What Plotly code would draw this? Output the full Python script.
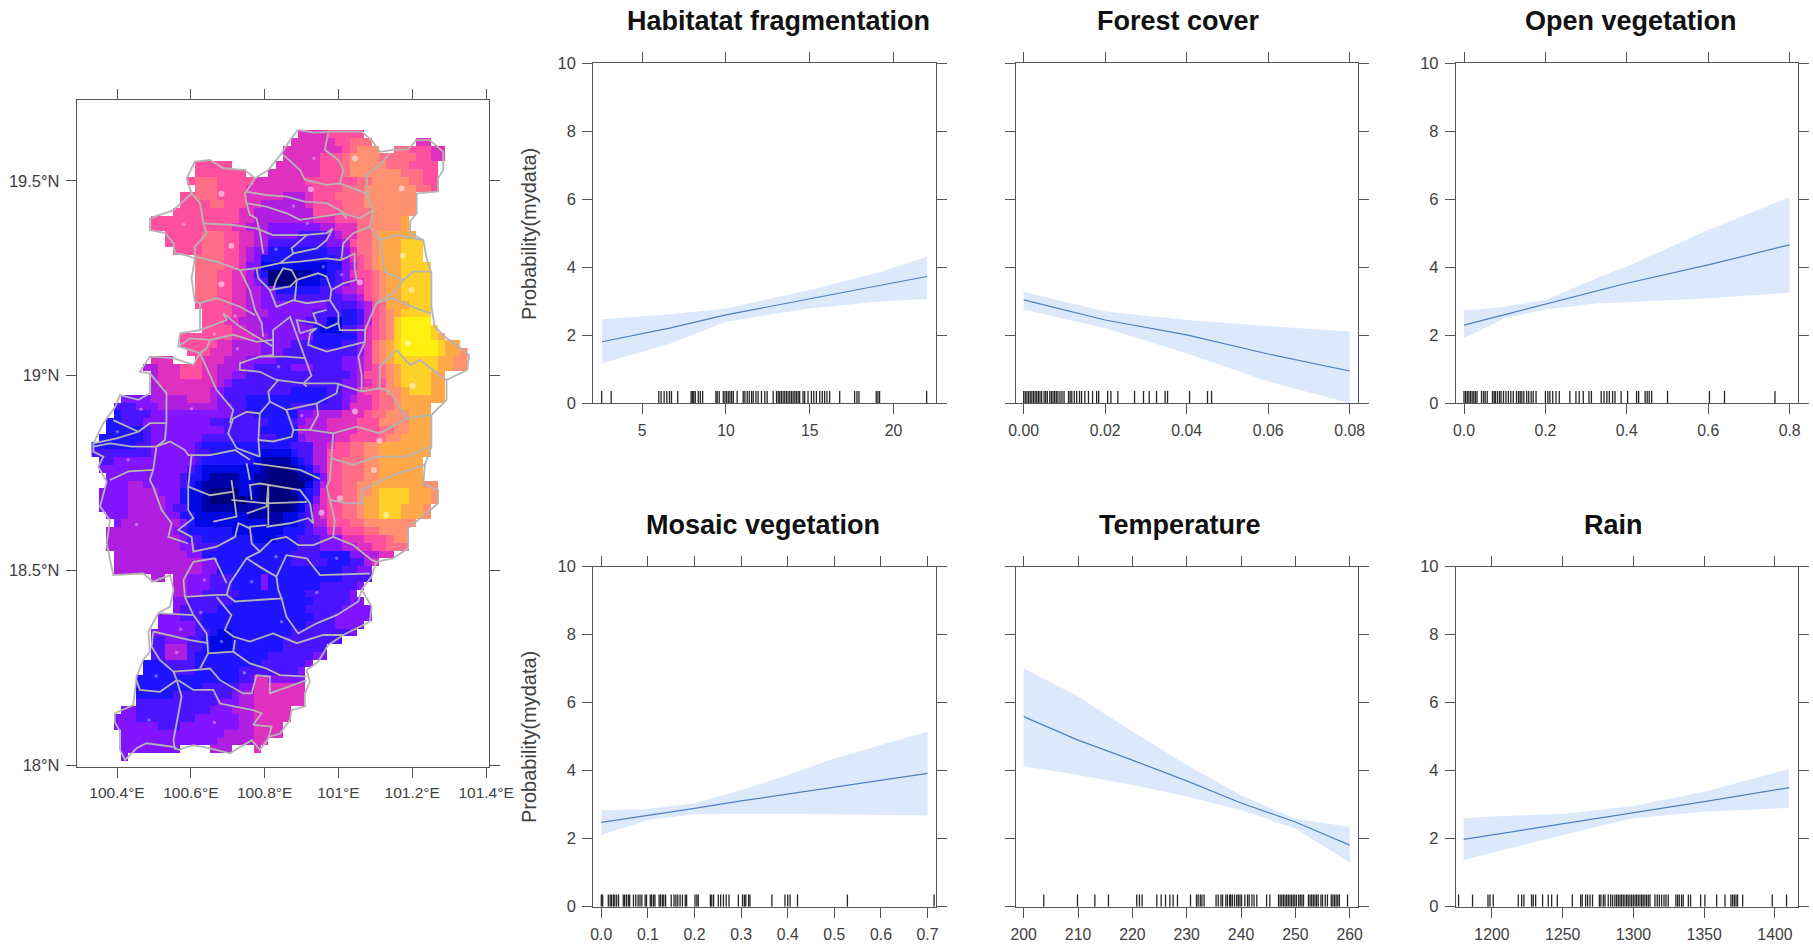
import plotly.graph_objects as go

MAP_COLOURS = ["#00007c","#0000a8","#0008e4","#1e14ff","#4a14ff","#8214ff","#b01ee0",
               "#e030c0","#ff50a0","#ff7088","#ff9070","#ffa848","#ffd028","#fff010"]
LEVEL_CODES = "0123456789abcd"
GRID_LON_WEST = 100.341
GRID_LAT_NORTH = 19.621
GRID_STEP = 0.02
GRID_COLS = 51

# each row: first column, then level>last column (run-length)
MAP_ROWS = [
"28 7>31 8>36",
"27 7>32 8>34 9>37 .>43 7>45",
"26 7>33 8>34 9>35 a>38 .>40 9>42 8>45 7>47",
"26 7>30 8>33 9>34 a>38 9>43 8>45 7>47",
"14 8>18 .>24 7>30 8>33 9>34 a>39 9>42 8>46",
"14 8>20 .>23 7>30 8>33 9>34 a>41 9>44 8>46",
"13 8>13 9>16 8>21 7>28 8>35 9>37 a>42 9>44 8>46",
"14 9>16 8>20 7>29 8>33 9>36 a>43 9>45 8>46",
"12 8>13 9>16 8>20 7>25 6>28 7>29 8>32 9>36 a>43",
"12 8>15 9>17 8>20 7>22 6>28 7>29 8>33 9>36 a>43",
"11 8>19 7>21 6>29 8>33 9>37 a>43",
"8 8>19 7>21 6>29 7>32 8>35 9>37 a>41 b>42",
"8 8>18 7>20 6>23 5>30 6>32 7>35 9>37 a>41 b>42",
"10 8>14 9>17 8>19 7>21 6>23 5>27 4>31 5>32 6>33 7>35 9>37 a>38 b>43",
"10 8>14 9>17 8>19 7>21 6>23 4>31 5>33 6>34 8>35 9>37 a>38 b>41 c>44",
"11 8>14 9>17 8>19 7>20 6>21 5>23 3>31 4>33 5>34 7>35 9>37 a>38 b>41 c>44",
"14 9>17 8>19 7>20 6>21 5>22 3>32 4>33 5>34 7>35 8>36 9>37 a>38 b>41 c>44",
"14 9>17 8>19 7>20 5>22 2>31 3>33 5>34 6>35 8>36 9>37 a>38 b>41 c>45",
"14 9>16 8>18 7>20 6>21 4>22 3>23 0>27 1>29 2>31 3>32 4>33 5>34 7>35 8>37 9>38 a>39 b>41 c>45",
"14 9>16 8>18 7>20 6>21 5>22 4>23 0>27 2>30 3>32 4>33 5>34 6>35 7>36 8>37 9>38 a>39 b>41 c>45",
"14 9>16 8>18 7>20 6>22 5>24 3>30 4>32 5>33 6>35 7>36 8>37 9>38 a>39 b>41 c>45",
"14 9>16 8>18 7>20 6>22 5>24 4>33 5>35 6>36 8>37 9>38 a>39 b>41 c>45",
"14 8>18 7>20 6>22 5>31 4>35 5>36 6>37 8>38 9>39 b>42 c>45",
"15 8>18 7>20 6>23 5>29 4>33 3>35 4>36 6>37 8>38 9>39 a>40 b>41 c>45",
"15 8>17 7>19 6>22 5>28 4>31 2>33 3>35 4>36 6>37 8>38 9>39 a>40 c>41 d>45",
"15 8>18 7>20 6>22 5>29 3>30 2>33 4>35 5>36 7>37 8>38 9>39 a>40 c>41 d>45 c>46",
"12 8>18 7>21 6>23 5>29 3>35 5>36 7>37 8>38 9>39 a>40 c>41 d>45 c>46 b>47",
"12 8>16 7>18 6>22 5>26 4>29 3>33 4>35 5>36 7>37 9>38 a>39 b>40 c>41 d>46 c>47 b>49",
"13 8>15 7>18 6>22 5>25 4>35 5>36 7>37 9>38 a>39 b>40 c>41 d>46 c>47 b>49 a>50",
"8 7>10 .>13 8>14 7>17 6>20 5>24 4>33 5>35 6>36 7>37 9>38 a>39 b>40 c>46 b>48 a>50",
"7 6>8 7>11 8>14 7>16 6>19 5>21 4>26 5>29 4>33 5>35 6>36 7>37 8>38 9>39 a>40 b>41 c>46 b>48 a>50",
"8 6>8 7>11 8>14 7>16 6>18 5>20 4>34 5>35 6>36 8>38 9>39 a>40 b>41 c>45 b>47",
"8 6>8 7>16 6>17 5>18 4>33 5>35 6>36 7>37 8>39 a>40 b>41 c>45 b>47",
"8 6>9 7>15 6>16 5>17 4>26 3>31 4>33 5>35 7>36 8>38 9>39 a>41 b>42 c>45 b>47",
"4 5>7 6>12 7>15 6>16 5>17 4>20 3>31 4>33 5>34 6>35 7>37 8>38 9>40 a>41 b>47",
"3 4>5 5>8 6>16 5>18 4>20 3>26 4>33 5>34 7>37 8>38 9>40 a>41 b>45",
"3 3>3 4>7 5>18 4>21 3>27 5>29 6>33 7>36 8>37 9>39 a>42 b>45",
"2 3>3 4>6 5>15 4>23 3>26 4>27 5>28 6>31 7>35 8>38 a>42 b>45",
"2 3>6 4>7 5>17 4>22 3>27 6>31 7>35 8>38 9>40 a>42 b>45",
"1 3>6 4>7 5>14 4>24 3>27 5>28 6>32 7>34 8>38 9>39 a>41 b>45",
"0 3>5 4>7 5>13 4>14 3>26 4>29 6>31 7>32 8>34 9>36 a>38 b>45",
"0 4>7 5>13 4>15 3>22 2>26 3>27 4>29 6>31 8>34 9>36 a>38 b>45",
"1 4>2 5>13 4>14 3>21 2>22 1>26 2>27 3>28 4>29 6>31 8>33 9>36 a>38 b>44",
"1 5>12 4>13 3>14 2>22 1>23 0>26 1>27 2>28 3>29 5>30 6>31 8>33 9>36 a>38 b>44",
"2 5>11 4>12 3>14 2>15 1>19 2>21 1>23 0>27 1>29 3>30 5>31 8>33 9>36 a>38 b>44",
"2 5>4 6>6 5>11 4>12 3>13 2>14 1>19 2>21 1>22 0>28 2>29 4>30 6>31 8>33 9>35 a>37 b>44 a>46",
"1 5>4 6>8 5>11 3>12 2>14 1>15 0>19 2>21 1>22 0>26 1>27 2>28 3>29 4>30 7>31 8>33 9>35 a>37 b>38 c>42 b>45 a>46",
"1 5>4 6>9 5>11 3>12 2>14 1>15 0>20 1>22 0>27 2>28 3>29 5>30 7>31 8>33 9>35 a>36 b>38 c>42 b>45 a>46",
"1 5>4 6>9 5>10 4>12 2>14 1>23 0>26 1>27 2>28 4>29 6>30 7>31 8>33 9>35 a>36 b>38 c>41 b>44 a>45",
"2 5>4 6>9 5>11 3>13 2>20 1>25 2>27 3>28 4>29 6>30 7>31 8>33 9>35 a>36 b>38 c>41 b>44 a>45",
"3 5>3 6>11 5>12 3>13 2>23 1>25 2>27 3>28 4>29 6>31 8>34 9>36 a>43",
"2 6>10 5>11 4>12 3>18 2>25 3>28 4>29 5>31 7>33 8>36 9>38 a>42",
"2 6>11 5>12 4>14 3>21 2>24 3>27 4>30 5>33 7>36 8>39 9>40 a>42",
"2 6>11 5>13 4>16 3>27 4>30 5>33 6>35 7>37 8>39 9>42",
"3 6>12 5>14 3>26 4>30 3>34 5>36 6>38 7>40",
"3 6>14 5>16 3>26 4>31 3>34 4>36 6>37 7>38",
"3 6>14 5>16 3>33 4>35 5>37",
"8 6>9 .>10 6>12 5>15 4>18 3>22 5>23 3>33 4>37",
"11 6>12 5>15 4>18 3>22 5>23 3>30 4>35 5>36",
"11 6>12 5>14 4>19 3>28 4>34 5>35",
"11 5>12 4>18 3>29 4>34 5>36",
"11 5>11 4>16 3>28 4>33 5>37",
"9 5>11 4>14 3>29 4>32 5>37",
"9 5>13 4>14 3>28 4>32 5>36",
"8 5>13 4>15 3>16 2>18 3>26 4>34 5>35",
"8 4>9 5>12 4>14 3>15 2>18 3>25 4>33",
"8 4>9 6>12 4>14 3>15 2>18 3>25 4>31",
"8 4>9 6>12 4>13 3>23 4>29 5>31",
"7 3>9 4>13 3>22 4>28 5>29",
"7 3>10 4>13 3>19 4>27 5>28",
"6 3>19 4>21 7>23 5>28",
"6 3>14 4>19 5>21 7>28",
"6 3>10 4>18 5>19 6>21 7>28",
"6 4>16 5>19 6>21 7>28",
"4 5>5 4>15 5>18 6>21 7>26",
"3 5>5 4>13 5>19 6>21 7>26",
"3 5>8 4>11 5>19 6>21 7>25",
"4 5>17 6>21 7>25",
"4 5>16 6>21 7>23",
"4 5>11 .>15 6>18 .>21 7>22",
"4 5>4",
]

DOT_LON_LARGE = [101.045,100.925,101.171,100.683,100.710,101.174,100.683,101.058,101.198,101.189,101.201,101.045,101.111,101.096,101.004,100.954,101.129]
DOT_LAT_LARGE = [19.558,19.479,19.481,19.467,19.334,19.308,19.235,19.240,19.220,19.083,18.974,18.908,18.833,18.758,18.685,18.648,18.642]
DOT_LON_SMALL = [100.934,100.878,100.580,100.916,100.831,101.009,100.959,100.720,100.664,100.726,100.838,100.602,100.901,100.465,100.430,100.401,100.453,100.562,100.572,100.683,100.941,100.995,100.831,100.765,100.637,100.627,100.846,100.506,100.487,100.664,100.745]
DOT_LAT_SMALL = [19.558,19.436,19.389,19.391,19.325,19.259,19.280,19.153,19.107,19.069,19.023,18.915,18.897,18.914,18.784,18.856,18.618,18.289,18.349,18.317,18.443,18.531,18.535,18.471,18.475,18.392,18.368,18.229,18.116,18.109,18.237]

# district outlines, lon/lat pairs
BOUNDARIES = [
[(100.890,19.631),(100.932,19.624),(100.986,19.627),(101.063,19.627),(101.090,19.605),(101.112,19.575),(101.148,19.580),(101.189,19.581),(101.210,19.605),(101.248,19.605),(101.284,19.575),(101.284,19.528),(101.270,19.507),(101.270,19.473),(101.212,19.468),(101.212,19.417),(101.194,19.396),(101.194,19.367),(101.230,19.348),(101.239,19.301),(101.252,19.263),(101.252,19.177),(101.261,19.126),(101.293,19.096),(101.325,19.075),(101.354,19.053),(101.349,19.015),(101.293,18.989),(101.293,18.938),(101.252,18.899),(101.252,18.818),(101.234,18.771),(101.230,18.723),(101.270,18.706),(101.270,18.672),(101.207,18.621),(101.189,18.608),(101.189,18.557),(101.148,18.531),(101.103,18.522),(101.090,18.484),(101.063,18.450),(101.090,18.407),(101.085,18.368),(101.013,18.334),(100.972,18.308),(100.945,18.265),(100.914,18.244),(100.923,18.214),(100.909,18.184),(100.909,18.150),(100.873,18.141),(100.869,18.116),(100.842,18.081),(100.814,18.073),(100.787,18.039),(100.765,18.064),(100.706,18.030),(100.652,18.043),(100.607,18.051),(100.566,18.039),(100.553,18.047),(100.480,18.056),(100.453,18.043),(100.422,18.013),(100.408,18.039),(100.408,18.086),(100.394,18.111),(100.394,18.133),(100.444,18.154),(100.453,18.227),(100.471,18.270),(100.489,18.291),(100.485,18.343),(100.512,18.390),(100.544,18.407),(100.553,18.450),(100.544,18.488),(100.498,18.471),(100.471,18.492),(100.390,18.488),(100.372,18.569),(100.381,18.629),(100.354,18.664),(100.363,18.698),(100.372,18.728),(100.349,18.766),(100.363,18.792),(100.336,18.805),(100.336,18.826),(100.363,18.878),(100.395,18.920),(100.408,18.950),(100.458,18.938),(100.489,18.955),(100.489,19.006),(100.462,19.010),(100.489,19.049),(100.553,19.045),(100.607,19.028),(100.625,19.058),(100.566,19.075),(100.571,19.109),(100.625,19.117),(100.625,19.186),(100.611,19.190),(100.602,19.250),(100.611,19.301),(100.584,19.310),(100.557,19.314),(100.553,19.340),(100.530,19.366),(100.489,19.374),(100.489,19.404),(100.553,19.425),(100.602,19.468),(100.589,19.507),(100.611,19.550),(100.652,19.554),(100.688,19.533),(100.747,19.528),(100.774,19.507),(100.810,19.528),(100.846,19.571),(100.869,19.605),(100.890,19.631)],
[(100.846,19.571),(100.896,19.528),(100.909,19.503),(100.968,19.490),(101.004,19.494),(101.013,19.528),(101.000,19.554),(100.963,19.580),(100.972,19.622)],
[(101.004,19.494),(101.040,19.481),(101.076,19.468),(101.081,19.451),(101.094,19.425)],
[(101.139,19.571),(101.112,19.541),(101.076,19.515),(101.081,19.451)],
[(100.774,19.507),(100.747,19.468),(100.751,19.443),(100.760,19.413),(100.778,19.404),(100.787,19.370),(100.796,19.314)],
[(100.747,19.473),(100.805,19.464),(100.860,19.460),(100.909,19.447),(100.968,19.443),(101.004,19.425),(101.022,19.404)],
[(100.751,19.443),(100.805,19.434),(100.860,19.417),(100.896,19.400),(100.950,19.408),(101.013,19.417),(101.058,19.404),(101.094,19.425)],
[(101.094,19.425),(101.085,19.383),(101.112,19.348),(101.126,19.267),(101.176,19.246),(101.203,19.267),(101.252,19.267)],
[(101.112,19.348),(101.158,19.361),(101.230,19.348)],
[(101.085,19.383),(101.040,19.366),(101.013,19.340),(101.008,19.297),(101.044,19.314),(101.044,19.280),(101.049,19.246),(101.013,19.237),(100.981,19.220),(100.968,19.254),(100.945,19.263),(100.887,19.246)],
[(100.634,19.391),(100.715,19.387),(100.778,19.378),(100.823,19.361),(100.905,19.361),(100.968,19.366),(100.984,19.378),(100.968,19.348),(100.941,19.327),(100.878,19.314),(100.873,19.327),(100.914,19.361)],
[(100.602,19.468),(100.625,19.443),(100.634,19.391),(100.643,19.366),(100.611,19.331),(100.611,19.301)],
[(100.611,19.306),(100.670,19.293),(100.733,19.271),(100.778,19.276),(100.841,19.289),(100.878,19.314)],
[(100.841,19.289),(100.896,19.293),(100.968,19.301),(101.008,19.297)],
[(100.778,19.276),(100.783,19.250),(100.814,19.220),(100.869,19.229),(100.887,19.246),(100.873,19.271),(100.850,19.276),(100.832,19.246),(100.823,19.220)],
[(100.733,19.271),(100.760,19.220),(100.774,19.169),(100.792,19.135),(100.796,19.100)],
[(100.814,19.220),(100.832,19.177),(100.878,19.194),(100.914,19.186),(100.977,19.194),(101.000,19.160),(101.000,19.135),(100.968,19.122),(100.941,19.135),(100.932,19.160),(100.968,19.169)],
[(100.887,19.246),(100.882,19.194)],
[(100.977,19.194),(100.981,19.220)],
[(100.625,19.186),(100.670,19.199),(100.733,19.177),(100.774,19.156)],
[(100.688,19.160),(100.733,19.126),(100.778,19.100),(100.823,19.075)],
[(100.688,19.160),(100.697,19.143),(100.625,19.117)],
[(100.566,19.075),(100.598,19.096),(100.652,19.092),(100.715,19.105),(100.778,19.087),(100.823,19.092),(100.823,19.053),(100.787,19.049),(100.733,19.032),(100.733,19.015),(100.787,19.010),(100.832,18.989),(100.905,18.980)],
[(100.652,19.092),(100.643,19.070),(100.625,19.058)],
[(100.823,19.092),(100.823,19.117),(100.869,19.151),(100.909,19.049),(100.927,19.000),(100.905,18.980),(100.914,18.972)],
[(100.787,19.049),(100.859,19.049),(100.909,19.045)],
[(100.896,19.109),(100.941,19.122),(100.923,19.109),(100.918,19.079),(100.968,19.062),(101.022,19.075),(101.072,19.087)],
[(100.896,19.109),(100.887,19.143),(100.941,19.135)],
[(101.000,19.135),(101.004,19.117),(101.072,19.117),(101.072,19.087),(101.054,19.049),(101.063,19.002),(101.063,18.959)],
[(101.176,19.246),(101.148,19.211),(101.103,19.186),(101.072,19.117)],
[(101.103,19.186),(101.148,19.199),(101.221,19.169),(101.252,19.160)],
[(101.158,19.066),(101.112,19.023),(101.112,18.968),(101.063,18.959),(100.995,18.980),(100.905,18.980)],
[(101.158,19.066),(101.194,19.027),(101.221,19.040),(101.293,18.989)],
[(101.112,18.968),(101.139,18.959),(101.185,18.890),(101.248,18.899)],
[(101.185,18.890),(101.112,18.852),(101.049,18.869),(100.986,18.852),(100.923,18.861),(100.878,18.861),(100.859,18.912),(100.814,18.933),(100.810,18.959),(100.837,18.989)],
[(100.859,18.912),(100.941,18.929),(100.995,18.955),(101.000,18.980)],
[(100.941,18.929),(100.945,18.899),(100.923,18.861)],
[(100.986,18.852),(100.981,18.788),(101.040,18.771),(101.103,18.792),(101.185,18.792),(101.252,18.818)],
[(101.234,18.771),(101.148,18.745),(101.063,18.706),(101.063,18.672),(101.027,18.672),(100.977,18.681),(100.968,18.715),(100.977,18.732),(100.981,18.788)],
[(100.977,18.681),(100.990,18.629),(100.986,18.586),(101.040,18.565),(101.090,18.527),(101.103,18.522)],
[(100.986,18.586),(100.932,18.565),(100.891,18.565),(100.859,18.586),(100.819,18.578),(100.787,18.548),(100.765,18.569),(100.760,18.612),(100.805,18.616)],
[(100.814,18.933),(100.787,18.903),(100.783,18.835),(100.787,18.792)],
[(100.783,18.835),(100.823,18.831),(100.873,18.843),(100.878,18.861)],
[(100.787,18.903),(100.751,18.907),(100.715,18.890),(100.701,18.852),(100.724,18.814),(100.787,18.792)],
[(100.489,19.006),(100.534,18.955),(100.534,18.878),(100.530,18.835),(100.507,18.818),(100.498,18.758),(100.489,18.732),(100.498,18.715),(100.521,18.655),(100.548,18.621),(100.539,18.586),(100.566,18.578),(100.593,18.569)],
[(100.625,19.058),(100.670,18.963),(100.715,18.912),(100.706,18.878)],
[(100.336,18.826),(100.399,18.839),(100.458,18.856),(100.390,18.886)],
[(100.336,18.818),(100.381,18.826),(100.440,18.818),(100.507,18.818),(100.544,18.831),(100.584,18.809),(100.593,18.796),(100.652,18.796),(100.720,18.809),(100.760,18.784)],
[(100.458,18.856),(100.489,18.878),(100.534,18.878)],
[(100.381,18.732),(100.431,18.754),(100.498,18.758)],
[(100.602,18.795),(100.593,18.715),(100.593,18.655),(100.607,18.634),(100.566,18.604),(100.602,18.586),(100.607,18.548),(100.670,18.561),(100.720,18.586),(100.729,18.621),(100.760,18.608)],
[(100.593,18.715),(100.652,18.693),(100.715,18.702),(100.710,18.732)],
[(100.715,18.702),(100.724,18.638),(100.661,18.625)],
[(100.710,18.681),(100.805,18.672),(100.914,18.676)],
[(100.751,18.646),(100.805,18.664),(100.810,18.719),(100.810,18.616)],
[(100.805,18.612),(100.869,18.621),(100.918,18.634),(100.932,18.621),(100.923,18.672),(100.896,18.706),(100.787,18.723),(100.760,18.719),(100.765,18.681)],
[(100.769,18.775),(100.896,18.758),(100.950,18.735)],
[(100.751,18.775),(100.760,18.732)],
[(100.787,18.548),(100.751,18.531),(100.706,18.467),(100.697,18.437),(100.670,18.437),(100.584,18.432),(100.580,18.475),(100.607,18.522),(100.665,18.531),(100.697,18.467)],
[(100.751,18.531),(100.787,18.509),(100.832,18.484),(100.837,18.450),(100.846,18.428),(100.720,18.420),(100.697,18.437)],
[(100.832,18.484),(100.859,18.539),(100.914,18.531),(100.950,18.488),(101.085,18.492)],
[(100.846,18.428),(100.859,18.381),(100.891,18.338),(100.941,18.364),(100.995,18.385),(101.054,18.420),(101.063,18.450)],
[(100.512,18.390),(100.607,18.385),(100.643,18.338)],
[(100.584,18.432),(100.607,18.385)],
[(100.670,18.432),(100.710,18.385),(100.692,18.347),(100.715,18.330),(100.760,18.317),(100.823,18.338),(100.887,18.313),(100.959,18.334),(101.013,18.334)],
[(100.643,18.338),(100.647,18.287),(100.715,18.291),(100.720,18.321)],
[(100.647,18.313),(100.598,18.321),(100.498,18.343)],
[(100.498,18.343),(100.494,18.304),(100.516,18.270),(100.553,18.240),(100.607,18.244),(100.652,18.248),(100.679,18.218),(100.742,18.184),(100.765,18.184),(100.778,18.231),(100.814,18.227),(100.814,18.184),(100.914,18.218)],
[(100.715,18.291),(100.760,18.261),(100.805,18.248),(100.841,18.231),(100.914,18.227)],
[(100.647,18.287),(100.625,18.248)],
[(100.553,18.240),(100.562,18.218),(100.516,18.188),(100.462,18.193),(100.453,18.218)],
[(100.562,18.218),(100.575,18.176),(100.553,18.064),(100.557,18.039)],
[(100.566,18.218),(100.607,18.193),(100.661,18.193),(100.679,18.158),(100.769,18.141),(100.792,18.133),(100.769,18.103),(100.819,18.099),(100.810,18.069)],
]

PANEL_TITLES = ["Habitatat fragmentation","Forest cover","Open vegetation","Mosaic vegetation","Temperature","Rain"]

X1 = [2.6,6.7,10,15,19,22]
MEAN1 = [1.81,2.22,2.60,3.06,3.45,3.73]
UP1 = [2.47,2.62,2.79,3.33,3.83,4.31]
LO1 = [1.18,1.76,2.40,2.79,2.99,3.07]
RUG1 = [2.58,3.15,5.99,6.13,6.31,6.47,6.63,6.75,7.12,7.92,8.0,8.08,8.17,8.35,8.47,8.61,9.4,9.48,9.6,9.84,9.94,10.04,10.14,10.24,10.34,10.44,10.67,11.03,11.13,11.27,11.39,11.53,11.63,11.79,11.92,12.12,12.32,12.46,12.82,13.02,13.12,13.21,13.31,13.41,13.51,13.61,13.71,13.81,13.91,14.01,14.11,14.21,14.31,14.4,14.6,14.7,14.9,15.1,15.24,15.4,15.6,15.75,15.89,16.03,16.19,16.79,17.68,17.82,17.94,18.97,19.07,19.17,21.98]

X2 = [0,0.02,0.04,0.06,0.08]
MEAN2 = [3.04,2.45,2.01,1.45,0.95]
UP2 = [3.28,2.70,2.45,2.27,2.11]
LO2 = [2.76,2.21,1.47,0.64,0.0]
RUG2 = [0,.0004,.0008,.0012,.0016,.002,.0024,.0028,.0032,.0036,.004,.0044,.005,.0054,.0058,.0064,.0068,.0072,.0076,.008,.0084,.0089,.0094,.0099,.011,.0114,.0118,.0124,.013,.0137,.0142,.015,.0159,.0169,.0179,.0184,.0206,.0214,.0231,.0272,.0294,.0308,.0326,.0347,.0353,.0407,.0451,.0461]

X3 = [0,0.1,0.2,0.33,0.4,0.6,0.8]
MEAN3 = [2.30,2.61,2.92,3.33,3.53,4.07,4.66]
UP3 = [2.73,2.84,3.04,3.70,4.02,5.10,6.06]
LO3 = [1.91,2.50,2.76,2.94,2.97,3.09,3.25]
RUG3 = [0,.004,.008,.012,.016,.02,.024,.028,.032,.043,.048,.052,.057,.07,.074,.077,.082,.087,.091,.097,.103,.109,.115,.121,.129,.134,.138,.142,.147,.154,.159,.165,.17,.177,.2,.206,.211,.218,.226,.234,.26,.275,.283,.293,.307,.313,.337,.344,.351,.357,.365,.371,.386,.402,.424,.429,.445,.45,.455,.461,.5,.603,.64,.764]

X4 = [0,0.1,0.2,0.3,0.4,0.5,0.7]
MEAN4 = [2.48,2.68,2.89,3.11,3.31,3.53,3.92]
UP4 = [2.84,2.87,3.04,3.43,3.87,4.36,5.15]
LO4 = [2.11,2.55,2.72,2.73,2.73,2.72,2.68]
RUG4 = [0,.003,.015,.019,.022,.026,.029,.033,.037,.047,.05,.054,.058,.061,.069,.074,.079,.083,.087,.094,.097,.105,.108,.112,.115,.124,.127,.131,.134,.138,.15,.156,.16,.164,.169,.174,.18,.183,.201,.205,.208,.234,.237,.241,.251,.256,.262,.268,.274,.294,.303,.307,.31,.316,.319,.366,.394,.4,.405,.421,.528,.714]

X5 = [200,210,220,230,240,250,260]
MEAN5 = [5.59,4.90,4.31,3.70,3.05,2.49,1.81]
UP5 = [7.01,6.18,5.15,4.17,3.28,2.59,2.35]
LO5 = [4.13,3.87,3.58,3.24,2.84,2.30,1.30]
RUG5 = [203.7,209.9,213.1,215.6,220.8,221.3,221.8,224.5,225.3,226.1,226.9,227.5,228.3,230.7,231.8,232.1,232.5,232.8,233.2,235.4,235.8,236.3,236.6,237.2,237.5,237.9,238.1,238.4,238.8,239.2,239.5,239.8,240.1,240.7,241.2,241.5,242,242.4,242.9,244.7,245.3,246.9,247.2,247.5,247.8,248.1,248.4,248.7,249,249.3,249.6,249.9,250.2,250.6,250.9,251.2,251.5,252.4,252.7,253,253.3,253.6,253.9,254.2,254.7,255,255.5,255.9,256.6,256.9,257.2,257.5,257.8,258.1,259.6]

X6 = [1180,1200,1250,1300,1350,1410]
MEAN6 = [1.98,2.11,2.43,2.76,3.09,3.50]
UP6 = [2.60,2.65,2.73,2.96,3.38,4.05]
LO6 = [1.37,1.59,2.11,2.60,2.79,2.91]
RUG6 = [1176.4,1186.3,1197.2,1198.6,1200.9,1218.6,1221,1222.6,1228,1229.2,1230.9,1235.8,1239.8,1242.2,1246.2,1256.8,1262.7,1263.8,1266.2,1267.6,1269.3,1271.1,1275.9,1277,1278.7,1279.9,1282.2,1283.9,1285.3,1286.9,1288.1,1289.3,1290.5,1291.6,1292.8,1294,1295.2,1296.3,1297.5,1298.7,1299.9,1301.1,1302.2,1303.4,1304.6,1305.8,1306.9,1308.1,1309.3,1310.5,1311.7,1315.2,1316.8,1318.3,1319.9,1321.6,1323,1324.6,1330,1331.2,1332.4,1334,1335.2,1338.8,1340.4,1347.5,1350.5,1358.8,1364.7,1368.9,1370.1,1371.3,1372.5,1373.6,1377.2,1398.1,1408.2]

X_TICKS = [[5,10,15,20],[0,0.02,0.04,0.06,0.08],[0,0.2,0.4,0.6,0.8],
           [0,0.1,0.2,0.3,0.4,0.5,0.6,0.7],[200,210,220,230,240,250,260],[1200,1250,1300,1350,1400]]
X_LABELS = [["5","10","15","20"],["0.00","0.02","0.04","0.06","0.08"],["0.0","0.2","0.4","0.6","0.8"],
            ["0.0","0.1","0.2","0.3","0.4","0.5","0.6","0.7"],["200","210","220","230","240","250","260"],
            ["1200","1250","1300","1350","1400"]]
X_RANGES = [[2.083,22.52],[-0.00196,0.0821],[-0.0197,0.8206],[-0.0172,0.7175],[198.53,261.58],[1174.6,1416.3]]
Y_TICKS = [0,2,4,6,8,10]
MAP_LON_TICKS = [100.4,100.6,100.8,101,101.2,101.4]
MAP_LON_LABELS = ["100.4°E","100.6°E","100.8°E","101°E","101.2°E","101.4°E"]
MAP_LAT_TICKS = [18,18.5,19,19.5]
MAP_LAT_LABELS = ["18°N","18.5°N","19°N","19.5°N"]

XS = [X1,X2,X3,X4,X5,X6]
MEANS = [MEAN1,MEAN2,MEAN3,MEAN4,MEAN5,MEAN6]
UPS = [UP1,UP2,UP3,UP4,UP5,UP6]
LOS = [LO1,LO2,LO3,LO4,LO5,LO6]
RUGS = [RUG1,RUG2,RUG3,RUG4,RUG5,RUG6]
RUG_HEIGHT = 0.36

W, H = 1813, 945
FONT = "Liberation Sans"
AX = "#555555"
TXT = "#404040"

def decode(row):
    parts = row.split()
    col = int(parts[0])
    out = [None]*GRID_COLS
    for p in parts[1:]:
        lev, end = p.split(">")
        end = int(end)
        if lev != ".":
            for c in range(col, end+1):
                out[c] = LEVEL_CODES.index(lev)
        col = end+1
    return out

z = [decode(r) for r in MAP_ROWS]
lons = [GRID_LON_WEST + GRID_STEP*c for c in range(GRID_COLS)]
lats = [GRID_LAT_NORTH - GRID_STEP*r for r in range(len(MAP_ROWS))]
n = len(MAP_COLOURS)
scale = []
for i, c in enumerate(MAP_COLOURS):
    scale += [[i/n, c], [(i+1)/n, c]]

fig = go.Figure()
fig.add_trace(go.Heatmap(x=lons, y=lats, z=z, zmin=0, zmax=n, colorscale=scale, showscale=False,
                         hoverinfo="skip", xaxis="x", yaxis="y"))
fig.add_trace(go.Scatter(x=DOT_LON_LARGE, y=DOT_LAT_LARGE, mode="markers", hoverinfo="skip",
                         marker=dict(size=6, color="rgba(255,255,255,0.5)"), xaxis="x", yaxis="y"))
fig.add_trace(go.Scatter(x=DOT_LON_SMALL, y=DOT_LAT_SMALL, mode="markers", hoverinfo="skip",
                         marker=dict(size=3.5, color="rgba(255,255,255,0.35)"), xaxis="x", yaxis="y"))
bx, by = [], []
for poly in BOUNDARIES:
    bx += [p[0] for p in poly] + [None]
    by += [p[1] for p in poly] + [None]
fig.add_trace(go.Scatter(x=bx, y=by, mode="lines", hoverinfo="skip", line=dict(color="#b4b4b4", width=1.8),
                         xaxis="x", yaxis="y"))

layout = dict(width=W, height=H, margin=dict(l=0,r=0,t=0,b=0), paper_bgcolor="white", plot_bgcolor="white",
              showlegend=False, font=dict(family=FONT, color=TXT, size=15))

def axis_common(size, standoff=0):
    return dict(showgrid=False, zeroline=False, showline=True, linecolor=AX, linewidth=1.3,
                mirror="ticks", ticks="outside", ticklen=10, tickcolor=AX, tickwidth=1.3, automargin=False,
                ticklabelstandoff=standoff, tickfont=dict(family=FONT, size=size, color=TXT))

layout["xaxis"] = dict(axis_common(15.5, 1), domain=[77/W, 489/W], range=[100.2916, 101.408], anchor="y",
                       tickmode="array", tickvals=MAP_LON_TICKS, ticktext=MAP_LON_LABELS)
layout["yaxis"] = dict(axis_common(16.5, 3), domain=[1-767/H, 1-100/H], range=[17.995, 19.708], anchor="x",
                       tickmode="array", tickvals=MAP_LAT_TICKS, ticktext=MAP_LAT_LABELS)

FRAMES = [(593.3,935.7,63.3,403.3),(1015.7,1358.3,63.3,403.3),(1456,1798,63.3,403.3),
          (593.3,935.7,566.7,906.7),(1015.7,1358.3,566.7,906.7),(1456,1798,566.7,906.7)]
TITLE_POS = [(778.3,20.7),(1178.3,20.7),(1630.8,20.7),(762.5,525),(1180,525),(1613.7,525)]
annotations = []
for i in range(6):
    xa, ya = f"x{i+2}", f"y{i+2}"
    l, r, t, b = FRAMES[i]
    layout[f"xaxis{i+2}"] = dict(axis_common(15.8, 3), domain=[l/W, r/W], range=X_RANGES[i], anchor=ya,
                                 tickmode="array", tickvals=X_TICKS[i], ticktext=X_LABELS[i])
    layout[f"yaxis{i+2}"] = dict(axis_common(16.5, 3), domain=[1-b/H, 1-t/H], range=[0,10], anchor=xa,
                                 tickmode="array", tickvals=Y_TICKS,
                                 showticklabels=(i % 3 != 1))
    fig.add_trace(go.Scatter(x=XS[i]+XS[i][::-1], y=UPS[i]+LOS[i][::-1], fill="toself", mode="none",
                             fillcolor="#dce9fb", hoverinfo="skip", xaxis=xa, yaxis=ya))
    fig.add_trace(go.Scatter(x=XS[i], y=MEANS[i], mode="lines", line=dict(color="#4f80bd", width=1.2),
                             hoverinfo="skip", xaxis=xa, yaxis=ya))
    rx, ry = [], []
    for v in RUGS[i]:
        rx += [v, v, None]
        ry += [0, RUG_HEIGHT, None]
    fig.add_trace(go.Scatter(x=rx, y=ry, mode="lines", line=dict(color="rgba(0,0,0,0.85)", width=1.3),
                             hoverinfo="skip", xaxis=xa, yaxis=ya))
    annotations.append(dict(text=f"<b>{PANEL_TITLES[i]}</b>", x=TITLE_POS[i][0]/W, y=1-TITLE_POS[i][1]/H,
                            xref="paper", yref="paper", showarrow=False, xanchor="center", yanchor="middle",
                            font=dict(family=FONT, size=27, color="#111111")))
for py in (234, 737):
    annotations.append(dict(text="Probability(mydata)", x=529/W, y=1-py/H, xref="paper", yref="paper",
                            showarrow=False, textangle=-90, xanchor="center", yanchor="middle",
                            font=dict(family=FONT, size=20, color=TXT)))
layout["annotations"] = annotations
fig.update_layout(**layout)
fig.write_html("out.html", config={"displayModeBar": False},
               post_script="document.body.style.margin='0';document.body.style.overflow='hidden';")
